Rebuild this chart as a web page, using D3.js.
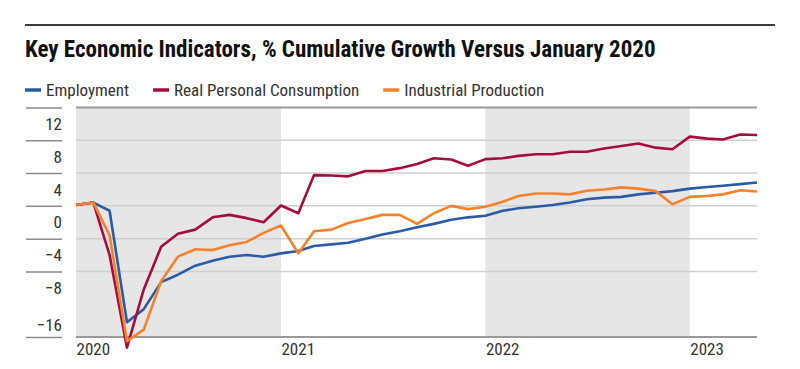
<!DOCTYPE html>
<html>
<head>
<meta charset="utf-8">
<script src="https://cdn.jsdelivr.net/npm/d3@7"></script>
<style>
  body { margin: 0; background: #fff; }
  text { font-family: "Liberation Sans Narrow", "Roboto Condensed", "DejaVu Sans Condensed", sans-serif; }
</style>
</head>
<body>
<svg id="chart"></svg>
<script>
// Key economic indicators, % cumulative growth vs Jan 2020 (monthly, Jan 2020 - May 2023)

var months = d3.timeMonths(new Date(2020, 0, 1), new Date(2023, 5, 1));

var employment = [
  0.1, 0.4, -0.6, -14.2, -12.6, -9.3, -8.4, -7.3, -6.7, -6.2, -6.0, -6.2,
  -5.8, -5.5, -4.9, -4.7, -4.5, -4.0, -3.5, -3.1, -2.6, -2.2, -1.7, -1.4,
  -1.2, -0.6, -0.3, -0.1, 0.1, 0.4, 0.8, 1.0, 1.1, 1.4, 1.6, 1.8,
  2.1, 2.3, 2.45, 2.65, 2.85
];
var consumption = [
  0.1, 0.4, -6.0, -17.3, -10.2, -5.0, -3.4, -2.9, -1.4, -1.1, -1.5, -2.0,
  0.05, -0.9, 3.75, 3.7, 3.6, 4.25, 4.25, 4.6, 5.1, 5.8, 5.65, 4.9,
  5.7, 5.8, 6.1, 6.3, 6.3, 6.6, 6.6, 7.0, 7.3, 7.6, 7.1, 6.9,
  8.45, 8.2, 8.1, 8.7, 8.65
];
var industrial = [
  0.1, 0.4, -3.6, -16.5, -15.1, -9.2, -6.2, -5.3, -5.4, -4.8, -4.4, -3.3,
  -2.4, -5.8, -3.1, -2.9, -2.1, -1.6, -1.1, -1.1, -2.2, -0.9, 0.0, -0.4,
  -0.1, 0.5, 1.2, 1.5, 1.5, 1.4, 1.85, 2.0, 2.25, 2.1, 1.8, 0.2,
  1.1, 1.2, 1.4, 1.9, 1.75
];

var seriesNames = ["Employment", "Real Personal Consumption", "Industrial Production"];
var seriesColors = ["#2a5ba8", "#a50d3c", "#f5822a"];
var yTicks = [12, 8, 4, 0, -4, -8, -16];
var shadedYears = [2020, 2022];

var width = 800, height = 369;
var svg = d3.select("#chart").attr("width", width).attr("height", height);

var plotLeft = 76, plotRight = 757, plotTop = 107.5, plotBottom = 337;

var x = d3.scaleTime()
    .domain([months[0], months[months.length - 1]])
    .range([plotLeft, plotRight]);
var y = d3.scaleLinear()
    .domain([-16, 12])
    .range([plotBottom, plotTop]);

// top rule
svg.append("line")
    .attr("x1", 25).attr("x2", 775)
    .attr("y1", 25).attr("y2", 25)
    .attr("stroke", "#3a3a3a").attr("stroke-width", 2);

// title, sized to the reference width
var title = svg.append("text")
    .attr("x", 25).attr("y", 57)
    .attr("font-size", 21)
    .attr("font-weight", "bold")
    .attr("fill", "#111")
    .text("Key Economic Indicators, % Cumulative Growth Versus January 2020");
var tw = title.node().getComputedTextLength();
title.attr("font-size", Math.min(24, 21 * 631 / tw));

// legend
var lx = 25;
seriesNames.forEach(function(name, i) {
  var g = svg.append("g").attr("transform", "translate(" + lx + ",90)");
  g.append("line")
      .attr("x1", 0).attr("x2", 16)
      .attr("stroke", seriesColors[i]).attr("stroke-width", 3.5);
  var t = g.append("text")
      .attr("x", 21).attr("y", 6)
      .attr("font-size", 17)
      .attr("fill", "#333")
      .text(name);
  lx += 21 + t.node().getComputedTextLength() + 24;
});

// shaded year bands
svg.append("g")
  .selectAll("rect")
  .data(shadedYears)
  .enter().append("rect")
    .attr("x", function(d) { return Math.max(plotLeft, x(new Date(d, 0, 1))); })
    .attr("width", function(d) {
      return Math.min(plotRight, x(new Date(d + 1, 0, 1))) - Math.max(plotLeft, x(new Date(d, 0, 1)));
    })
    .attr("y", plotTop)
    .attr("height", plotBottom - plotTop)
    .attr("fill", "#e6e6e6");

// gridlines in plot
svg.append("g")
  .selectAll("line")
  .data(yTicks.filter(function(d) { return d !== 12 && d !== -16; }))
  .enter().append("line")
    .attr("x1", plotLeft).attr("x2", plotRight)
    .attr("y1", function(d) { return y(d); })
    .attr("y2", function(d) { return y(d); })
    .attr("stroke", "#cfcfcf").attr("stroke-width", 1.5);

// top and bottom frame lines
[12, -16].forEach(function(v) {
  svg.append("line")
      .attr("x1", plotLeft).attr("x2", plotRight)
      .attr("y1", y(v)).attr("y2", y(v))
      .attr("stroke", "#9a9a9a").attr("stroke-width", 2);
});

// y axis: tick rules in the label column, labels under their rule
var yAxis = svg.append("g")
    .attr("transform", "translate(62,0)")
    .call(d3.axisLeft(y).tickValues(yTicks).tickSize(36).tickFormat(function(d) {
      return d < 0 ? "\u2212" + Math.abs(d) : d;
    }));
yAxis.select(".domain").remove();
yAxis.selectAll(".tick line").attr("stroke", "#8a8a8a").attr("stroke-width", 1.5);
yAxis.selectAll(".tick text")
    .attr("x", 0)
    .attr("dy", null)
    .attr("y", function(d) { return d === -16 ? -7 : 22; })
    .attr("text-anchor", "end")
    .attr("font-size", 17)
    .attr("fill", "#333");

// x axis: year labels
var xAxis = svg.append("g")
    .attr("transform", "translate(0," + plotBottom + ")")
    .call(d3.axisBottom(x).ticks(d3.timeYear.every(1)).tickSize(0).tickFormat(d3.timeFormat("%Y")));
xAxis.select(".domain").remove();
xAxis.selectAll(".tick text")
    .attr("text-anchor", "start")
    .attr("dy", null)
    .attr("y", 18)
    .attr("font-size", 17)
    .attr("fill", "#333");

// lines
var line = d3.line()
    .x(function(d, i) { return x(months[i]); })
    .y(function(d) { return y(d); });

[employment, consumption, industrial].forEach(function(values, i) {
  svg.append("path")
      .datum(values)
      .attr("fill", "none")
      .attr("stroke", seriesColors[i])
      .attr("stroke-width", 2.6)
      .attr("stroke-linejoin", "round")
      .attr("d", line);
});
</script>
</body>
</html>
